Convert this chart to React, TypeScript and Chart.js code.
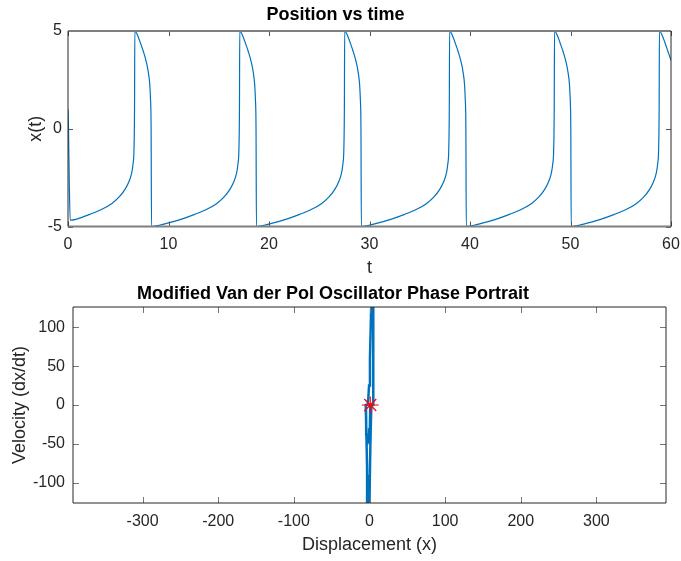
import React, { useEffect, useRef } from "react";
import { Chart, registerables } from "chart.js";

Chart.register(...registerables);

// ---------- Data: Position vs time ----------
const timeValues: number[] = [
  0, 0.05, 0.12, 0.22,
  0.87, 2.17, 3.37, 4.37, 5.07, 5.67, 6.07, 6.32, 6.47, 6.57, 6.62, 6.65,
  6.95, 7.2, 7.5, 7.8, 7.99, 8.13, 8.21, 8.27, 8.31,
  9.81, 11.31, 12.61, 13.81, 14.81, 15.51, 16.11, 16.51, 16.76, 16.91, 17.01, 17.06, 17.09,
  17.39, 17.64, 17.94, 18.24, 18.43, 18.57, 18.65, 18.71, 18.75,
  20.25, 21.75, 23.05, 24.25, 25.25, 25.95, 26.55, 26.95, 27.2, 27.35, 27.45, 27.5, 27.53,
  27.83, 28.08, 28.38, 28.68, 28.87, 29.01, 29.09, 29.15, 29.19,
  30.69, 32.19, 33.49, 34.69, 35.69, 36.39, 36.99, 37.39, 37.64, 37.79, 37.89, 37.94, 37.97,
  38.27, 38.52, 38.82, 39.12, 39.31, 39.45, 39.53, 39.59, 39.63,
  41.13, 42.63, 43.93, 45.13, 46.13, 46.83, 47.43, 47.83, 48.08, 48.23, 48.33, 48.38, 48.41,
  48.71, 48.96, 49.26, 49.56, 49.75, 49.89, 49.97, 50.03, 50.07,
  51.57, 53.07, 54.37, 55.57, 56.57, 57.27, 57.87, 58.27, 58.52, 58.67, 58.77, 58.82, 58.85,
  59.15, 59.4, 59.7, 60,
];

const positionValues: number[] = [
  1.0, 0.0, -2.5, -4.68,
  -4.62, -4.38, -4.12, -3.82, -3.5, -3.1, -2.7, -2.3, -1.8, -1.0, 1.0, 5.0,
  4.75, 4.4, 3.95, 3.4, 2.9, 2.3, 1.5, 0.0, -5.0,
  -4.84, -4.62, -4.38, -4.12, -3.82, -3.5, -3.1, -2.7, -2.3, -1.8, -1.0, 1.0, 5.0,
  4.75, 4.4, 3.95, 3.4, 2.9, 2.3, 1.5, 0.0, -5.0,
  -4.84, -4.62, -4.38, -4.12, -3.82, -3.5, -3.1, -2.7, -2.3, -1.8, -1.0, 1.0, 5.0,
  4.75, 4.4, 3.95, 3.4, 2.9, 2.3, 1.5, 0.0, -5.0,
  -4.84, -4.62, -4.38, -4.12, -3.82, -3.5, -3.1, -2.7, -2.3, -1.8, -1.0, 1.0, 5.0,
  4.75, 4.4, 3.95, 3.4, 2.9, 2.3, 1.5, 0.0, -5.0,
  -4.84, -4.62, -4.38, -4.12, -3.82, -3.5, -3.1, -2.7, -2.3, -1.8, -1.0, 1.0, 5.0,
  4.75, 4.4, 3.95, 3.4, 2.9, 2.3, 1.5, 0.0, -5.0,
  -4.84, -4.62, -4.38, -4.12, -3.82, -3.5, -3.1, -2.7, -2.3, -1.8, -1.0, 1.0, 5.0,
  4.75, 4.4, 3.95, 3.5,
];

const timeTicks: number[] = [0, 10, 20, 30, 40, 50, 60];
const positionTicks: number[] = [-5, 0, 5];

// ---------- Data: Phase portrait ----------
const displacementValues: number[] = [
  1.0, 0.5, -0.5, -2.0, -3.5, -4.4, -4.68, -2.5, -1.6, -0.6, 0.6, 1.6, 2.2, 3.0, 3.8,
  4.5, 4.9, 5.0, 5.0, 2.5, 1.9, 1.2, 0.5, 0.0, -1.0, -1.8, -2.2, -3.2, -4.3, -5.0, -2.5,
];
const velocityValues: number[] = [
  0, -30, -45, -48, -38, -20, 0, 0.5, 8, 25, 60, 100, 126, 170, 185,
  160, 126, 31, 0, -0.8, -20, -50, -90, -126, -170, -165, -126, -80, -30, 0, 0.5,
];
const initialPoint = { x: 1, v: 0 };

const displacementTicks: number[] = [-300, -200, -100, 0, 100, 200, 300];
const velocityTicks: number[] = [-100, -50, 0, 50, 100];

// ---------- Styling ----------
const FONT = "'Liberation Sans', Arial, Helvetica, sans-serif";
const LINE_BLUE = "#0072BD";
const AX = "#262626";

const matlabFrame = {
  id: "matlabFrame",
  afterDatasetsDraw(chart: any, _args: any, opts: any) {
    const { ctx, chartArea, scales } = chart;
    const { left, right, top, bottom } = chartArea;
    const L = opts.tickLen ?? 5;
    ctx.save();
    const seg = (x1: number, y1: number, x2: number, y2: number) => {
      ctx.beginPath();
      ctx.moveTo(x1, y1);
      ctx.lineTo(x2, y2);
      ctx.stroke();
    };
    ctx.strokeStyle = opts.tickColor;
    ctx.lineWidth = 1;
    for (const v of opts.xTicks) {
      const px = Math.round(scales.x.getPixelForValue(v)) + 0.5;
      seg(px, bottom, px, bottom - L);
      seg(px, top, px, top + L);
    }
    for (const v of opts.yTicks) {
      const py = Math.round(scales.y.getPixelForValue(v)) + 0.5;
      seg(left, py, left + L, py);
      seg(right, py, right - L, py);
    }
    ctx.strokeStyle = opts.hColor;
    ctx.lineWidth = opts.hWidth;
    seg(left, top, right, top);
    seg(left, bottom, right, bottom);
    ctx.strokeStyle = opts.vColor;
    ctx.lineWidth = opts.vWidth;
    seg(left, top, left, bottom);
    seg(right, top, right, bottom);
    ctx.restore();
  },
};

function fixedTicks(values: number[]) {
  return (scale: any) => {
    scale.ticks = values.map((v) => ({ value: v }));
  };
}

function PositionChart() {
  const ref = useRef<HTMLCanvasElement | null>(null);
  useEffect(() => {
    if (!ref.current) return;
    const data = timeValues.map((t, i) => ({ x: t, y: positionValues[i] }));
    const chart = new Chart(ref.current, {
      type: "scatter",
      data: {
        datasets: [
          {
            data,
            showLine: true,
            borderColor: LINE_BLUE,
            borderWidth: 1.2,
            pointRadius: 0,
            cubicInterpolationMode: "monotone",
          } as any,
        ],
      },
      options: {
        animation: false,
        responsive: false,
        events: [],
        layout: { padding: { left: 0, right: 10, top: 0, bottom: 0 } },
        plugins: {
          legend: { display: false },
          tooltip: { enabled: false },
          title: {
            display: true,
            text: "Position vs time",
            color: "#000",
            font: { family: FONT, size: 18, weight: "bold", lineHeight: 1.2 },
            padding: { top: 4.5, bottom: 4.9 },
          },
          matlabFrame: {
            xTicks: timeTicks,
            yTicks: positionTicks,
            tickLen: 5,
            tickColor: "#555",
            hColor: "#7f7f7f",
            hWidth: 2,
            vColor: AX,
            vWidth: 1,
          },
        } as any,
        scales: {
          x: {
            type: "linear",
            min: 0,
            max: 60,
            afterBuildTicks: fixedTicks(timeTicks),
            afterFit: (s: any) => {
              s.height = 53.5;
              s.paddingLeft = 0;
              s.paddingRight = 0;
            },
            grid: { display: false, drawTicks: false },
            border: { display: false },
            ticks: { color: AX, font: { family: FONT, size: 16 }, padding: 8, maxRotation: 0 },
            title: {
              display: true,
              text: "t",
              color: AX,
              font: { family: FONT, size: 18, lineHeight: 1.2 },
              padding: { top: 0, bottom: 1.2 },
            },
          },
          y: {
            type: "linear",
            min: -5,
            max: 5,
            afterBuildTicks: fixedTicks(positionTicks),
            afterFit: (s: any) => {
              s.width = 68;
              s.paddingTop = 0;
              s.paddingBottom = 0;
            },
            grid: { display: false, drawTicks: false },
            border: { display: false },
            ticks: { color: AX, font: { family: FONT, size: 16 }, padding: 6 },
            title: {
              display: true,
              text: "x(t)",
              color: AX,
              font: { family: FONT, size: 18, lineHeight: 1.2 },
              padding: { top: 25.7, bottom: 0 },
            },
          },
        },
      } as any,
      plugins: [matlabFrame],
    });
    return () => chart.destroy();
  }, []);
  return (
    <canvas
      ref={ref}
      width={681}
      height={280}
      style={{ position: "absolute", left: 0, top: 0, width: 681, height: 280 }}
    />
  );
}

function PhaseChart() {
  const ref = useRef<HTMLCanvasElement | null>(null);
  useEffect(() => {
    if (!ref.current) return;
    const loop = displacementValues.map((x, i) => ({ x, y: velocityValues[i] }));
    const chart = new Chart(ref.current, {
      type: "scatter",
      data: {
        datasets: [
          {
            data: loop,
            showLine: true,
            borderColor: LINE_BLUE,
            borderWidth: 2.5,
            pointRadius: 0,
            tension: 0,
            order: 1,
          } as any,
          {
            data: [{ x: initialPoint.x, y: initialPoint.v }],
            showLine: false,
            pointStyle: "star",
            pointRadius: 8.5,
            borderColor: "#FF0000",
            backgroundColor: "#FF0000",
            borderWidth: 1.2,
            order: 0,
          } as any,
        ],
      },
      options: {
        animation: false,
        responsive: false,
        events: [],
        layout: { padding: { left: 0, right: 15, top: 0, bottom: 0 } },
        plugins: {
          legend: { display: false },
          tooltip: { enabled: false },
          title: {
            display: true,
            text: "Modified Van der Pol Oscillator Phase Portrait",
            color: "#000",
            font: { family: FONT, size: 18, weight: "bold", lineHeight: 1.2 },
            padding: { top: 3.2, bottom: 2.2 },
          },
          matlabFrame: {
            xTicks: displacementTicks,
            yTicks: velocityTicks,
            tickLen: 6,
            tickColor: "#777",
            hColor: AX,
            hWidth: 1,
            vColor: AX,
            vWidth: 1,
          },
        } as any,
        scales: {
          x: {
            type: "linear",
            min: -392,
            max: 392,
            afterBuildTicks: fixedTicks(displacementTicks),
            afterFit: (s: any) => {
              s.height = 58;
              s.paddingLeft = 0;
              s.paddingRight = 0;
            },
            grid: { display: false, drawTicks: false },
            border: { display: false },
            ticks: { color: AX, font: { family: FONT, size: 16 }, padding: 9, maxRotation: 0 },
            title: {
              display: true,
              text: "Displacement (x)",
              color: AX,
              font: { family: FONT, size: 18, lineHeight: 1.2 },
              padding: { top: 0, bottom: 5.2 },
            },
          },
          y: {
            type: "linear",
            min: -126,
            max: 126,
            afterBuildTicks: fixedTicks(velocityTicks),
            afterFit: (s: any) => {
              s.width = 73;
              s.paddingTop = 0;
              s.paddingBottom = 0;
            },
            grid: { display: false, drawTicks: false },
            border: { display: false },
            ticks: { color: AX, font: { family: FONT, size: 16 }, padding: 8 },
            title: {
              display: true,
              text: "Velocity (dx/dt)",
              color: AX,
              font: { family: FONT, size: 18, lineHeight: 1.2 },
              padding: { top: 8.8, bottom: 0 },
            },
          },
        },
      } as any,
      plugins: [matlabFrame],
    });
    return () => chart.destroy();
  }, []);
  return (
    <canvas
      ref={ref}
      width={681}
      height={281}
      style={{ position: "absolute", left: 0, top: 280, width: 681, height: 281 }}
    />
  );
}

export default function App() {
  return (
    <div
      style={{
        position: "absolute",
        left: 0,
        top: 0,
        width: 681,
        height: 561,
        background: "#fff",
        overflow: "hidden",
      }}
    >
      <PositionChart />
      <PhaseChart />
    </div>
  );
}
